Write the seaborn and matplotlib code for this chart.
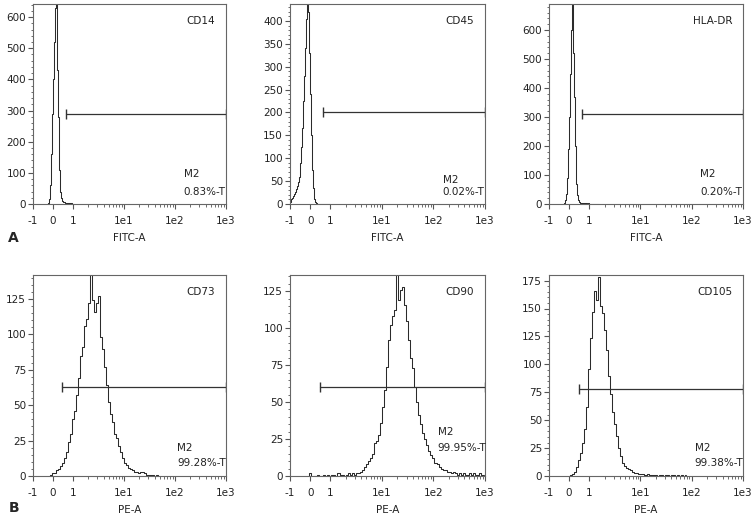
import numpy as np
import pandas as pd
import matplotlib
matplotlib.use('Agg')
import matplotlib.pyplot as plt
import seaborn as sns

# histogram counts; x is the display channel
# (linear from -1 to 1, then log decades: 1e1, 1e2, 1e3)
cd14_x = [-0.30, -0.25, -0.20, -0.15, -0.10, -0.05, 0.00, 0.05, 0.10, 0.15,
          0.20, 0.25, 0.30, 0.35, 0.40, 0.45, 0.50, 0.55, 0.60, 0.65,
          0.70, 0.75, 0.80, 0.85, 0.90, 0.95, 1.00, 1.05]
cd14_y = [0, 3, 15, 60, 160, 290, 400, 520, 630, 650,
          430, 280, 110, 40, 18, 10, 7, 5, 4, 3,
          3, 2, 2, 2, 2, 1, 1, 0]

cd45_x = [-1.00, -0.95, -0.90, -0.85, -0.80, -0.75, -0.70, -0.65, -0.60, -0.55,
          -0.50, -0.45, -0.40, -0.35, -0.30, -0.25, -0.20, -0.15, -0.10, -0.05,
          0.00, 0.05, 0.10, 0.15, 0.20, 0.25, 0.30, 0.35, 0.40, 0.45,
          0.50, 0.55, 0.60, 0.65, 0.70, 0.75, 0.80, 0.85, 0.90, 0.95, 1.00]
cd45_y = [5, 10, 14, 18, 22, 27, 33, 40, 47, 60,
          90, 125, 165, 225, 280, 340, 405, 445, 420, 330,
          240, 150, 75, 35, 10, 4, 2, 1, 0, 1,
          0, 0, 1, 0, 0, 1, 0, 1, 0, 0, 0]

hladr_x = [-0.30, -0.25, -0.20, -0.15, -0.10, -0.05, 0.00, 0.05, 0.10, 0.15,
           0.20, 0.25, 0.30, 0.35, 0.40, 0.45, 0.50, 0.55, 0.60, 0.65,
           0.70, 0.75, 0.80, 0.85, 0.90, 0.95, 1.00, 1.05, 1.10, 1.15,
           1.20, 1.25, 1.30, 1.35, 1.40, 1.45, 1.50]
hladr_y = [0, 3, 15, 35, 90, 190, 300, 450, 600, 720,
           520, 370, 200, 70, 30, 15, 8, 5, 4, 3,
           3, 2, 2, 2, 1, 2, 1, 1, 0, 1,
           1, 0, 0, 1, 0, 1, 0]

cd73_x = [-0.2, -0.1, 0.0, 0.1, 0.2, 0.3, 0.4, 0.5, 0.6, 0.7,
          0.8, 0.9, 1.0, 1.1, 1.2, 1.3, 1.4, 1.5, 1.6, 1.7,
          1.8, 1.9, 2.0, 2.1, 2.2, 2.3, 2.4, 2.5, 2.6, 2.7,
          2.8, 2.9, 3.0, 3.1, 3.2, 3.3, 3.4, 3.5, 3.6, 3.7,
          3.8, 3.9, 4.0, 4.1, 4.2, 4.3, 4.4, 4.5, 4.6, 4.7,
          4.8, 4.9, 5.0, 5.1, 5.2, 5.3]
cd73_y = [0, 1, 2, 2, 4, 5, 7, 9, 13, 17,
          24, 30, 40, 46, 57, 69, 85, 91, 106, 111,
          122, 145, 124, 116, 122, 127, 98, 90, 77, 64,
          52, 44, 38, 30, 27, 21, 17, 13, 9, 8,
          6, 5, 4, 3, 3, 2, 3, 3, 2, 1,
          1, 1, 1, 0, 1, 0]

cd90_x = [-0.1, 0.0, 0.1, 0.2, 0.3, 0.4, 0.5, 0.6, 0.7, 0.8,
          0.9, 1.0, 1.1, 1.2, 1.3, 1.4, 1.5, 1.6, 1.7, 1.8,
          1.9, 2.0, 2.1, 2.2, 2.3, 2.4, 2.5, 2.6, 2.7, 2.8,
          2.9, 3.0, 3.1, 3.2, 3.3, 3.4, 3.5, 3.6, 3.7, 3.8,
          3.9, 4.0, 4.1, 4.2, 4.3, 4.4, 4.5, 4.6, 4.7, 4.8,
          4.9, 5.0, 5.1, 5.2, 5.3, 5.4, 5.5, 5.6, 5.7, 5.8,
          5.9, 6.0, 6.1, 6.2, 6.3, 6.4, 6.5, 6.6, 6.7, 6.8,
          6.9, 7.0, 7.1, 7.2, 7.3, 7.4, 7.5, 7.6, 7.7, 7.8,
          7.9, 8.0, 8.1, 8.2, 8.3, 8.4, 8.5, 8.6]
cd90_y = [0, 2, 0, 0, 0, 1, 0, 0, 1, 0,
          1, 0, 1, 1, 0, 2, 1, 1, 0, 1,
          2, 1, 2, 1, 2, 2, 3, 4, 6, 8,
          10, 12, 15, 22, 24, 28, 36, 47, 58, 74,
          92, 102, 108, 112, 137, 119, 126, 128, 116, 105,
          92, 80, 73, 60, 50, 41, 35, 29, 25, 21,
          17, 14, 12, 9, 8, 6, 5, 4, 4, 3,
          3, 2, 3, 2, 1, 2, 1, 2, 1, 1,
          2, 1, 2, 1, 1, 2, 1, 1]

cd105_x = [0.0, 0.1, 0.2, 0.3, 0.4, 0.5, 0.6, 0.7, 0.8, 0.9,
           1.0, 1.1, 1.2, 1.3, 1.4, 1.5, 1.6, 1.7, 1.8, 1.9,
           2.0, 2.1, 2.2, 2.3, 2.4, 2.5, 2.6, 2.7, 2.8, 2.9,
           3.0, 3.1, 3.2, 3.3, 3.4, 3.5, 3.6, 3.7, 3.8, 3.9,
           4.0, 4.1, 4.2, 4.3, 4.4, 4.5, 4.6, 4.7, 4.8, 4.9,
           5.0, 5.1, 5.2, 5.3, 5.4, 5.5, 5.6, 5.7, 5.8]
cd105_y = [0, 1, 2, 4, 8, 14, 21, 30, 42, 62,
           96, 124, 147, 166, 158, 178, 152, 146, 131, 113,
           90, 73, 57, 47, 36, 25, 18, 12, 9, 7,
           6, 5, 4, 3, 3, 2, 2, 2, 1, 2,
           1, 1, 1, 1, 0, 1, 1, 0, 1, 1,
           0, 1, 1, 0, 1, 0, 1, 0, 1]

markers = ['CD14', 'CD45', 'HLA-DR', 'CD73', 'CD90', 'CD105']
channels = ['FITC-A', 'FITC-A', 'FITC-A', 'PE-A', 'PE-A', 'PE-A']
m2_pct = ['0.83%-T', '0.02%-T', '0.20%-T', '99.28%-T', '99.95%-T', '99.38%-T']
gate_start = [0.65, 0.62, 0.65, 0.45, 0.47, 0.48]
gate_level = [290, 200, 310, 63, 60, 78]
y_top = [642, 437, 690, 142, 136, 180]
y_major = [100, 50, 100, 25, 25, 25]
y_max_tick = [600, 400, 600, 125, 125, 175]
y_minor = [20, 10, 20, 5, 5, 5]

x_tick_vals = [-1, 0, 1, 10, 100, 1000]
x_tick_labels = ['-1', '0', '1', '1e1', '1e2', '1e3']

DECADE = 2.55


def chan(v):
    v = np.asarray(v, dtype=float)
    a = np.abs(v)
    return np.where(a <= 1, v, np.sign(v) * (1 + DECADE * np.log10(np.maximum(a, 1))))


sns.set_theme(style='ticks')
plt.rcParams['font.family'] = ['Liberation Sans Narrow', 'DejaVu Sans']
plt.rcParams['font.size'] = 7.5

data = [(cd14_x, cd14_y), (cd45_x, cd45_y), (hladr_x, hladr_y),
        (cd73_x, cd73_y), (cd90_x, cd90_y), (cd105_x, cd105_y)]

W, H = 752, 516
col_px = [(33, 193), (290, 195), (549, 194)]
row_px = [(4, 204), (275, 476)]
# text spots in axes fraction: (M2 x, M2 y, pct y)
m2_pos = [(0.78, 0.15, 0.06), (0.783, 0.12, 0.06), (0.78, 0.15, 0.06),
          (0.746, 0.14, 0.065), (0.757, 0.22, 0.14), (0.75, 0.14, 0.066)]

fig = plt.figure(figsize=(W / 100, H / 100), dpi=100)
line_col = '#2b2b2b'
minor_x = chan([m * 10 ** d for d in range(3) for m in range(2, 10)])
x_right = float(chan(1000))

for i, (xs, ys) in enumerate(data):
    r, c = divmod(i, 3)
    left, width = col_px[c]
    top, bottom = row_px[r]
    ax = fig.add_axes([left / W, 1 - bottom / H, width / W, (bottom - top) / H])
    df = pd.DataFrame({'chan': xs, 'count': ys})
    sns.lineplot(data=df, x='chan', y='count', ax=ax, estimator=None,
                 drawstyle='steps-mid', color=line_col, linewidth=0.75)
    ax.plot([gate_start[i], x_right], [gate_level[i], gate_level[i]],
            color='#333333', lw=0.9, marker='|', ms=7, mew=1.0)
    ax.set_xlim(-1, x_right)
    ax.set_ylim(0, y_top[i])
    ax.set_xticks(chan(x_tick_vals))
    ax.set_xticklabels(x_tick_labels)
    ax.set_xticks(minor_x, minor=True)
    ax.set_yticks(np.arange(0, y_max_tick[i] + 1, y_major[i]))
    ax.set_yticks(np.arange(0, y_top[i], y_minor[i]), minor=True)
    ax.set_xlabel(channels[i], fontsize=7.5, labelpad=5, color='#222222')
    ax.set_ylabel('')
    for s in ax.spines.values():
        s.set_visible(True)
        s.set_color('#666666')
        s.set_linewidth(0.8)
    ax.tick_params(axis='both', which='major', direction='out', length=3.5,
                   width=0.8, color='#555555', labelsize=7.5, labelcolor='#222222')
    ax.tick_params(axis='both', which='minor', direction='out', length=1.8,
                   width=0.6, color='#555555')
    ax.tick_params(axis='x', which='major', pad=5)
    ax.tick_params(axis='y', which='major', pad=1.5)
    ax.text(0.945, 0.915, markers[i], transform=ax.transAxes, ha='right',
            va='center', fontsize=7.5, color='#222222')
    mx, my, py = m2_pos[i]
    ax.text(mx, my, 'M2', transform=ax.transAxes, ha='left', va='center',
            fontsize=7.5, color='#222222')
    ax.text(mx, py, m2_pct[i], transform=ax.transAxes, ha='left', va='center',
            fontsize=7.5, color='#222222')

fig.text(0.011, 1 - 238 / H, 'A', fontsize=10, fontweight='bold', va='center')
fig.text(0.011, 1 - 508 / H, 'B', fontsize=10, fontweight='bold', va='center')

fig.savefig('out.png', dpi=100)
